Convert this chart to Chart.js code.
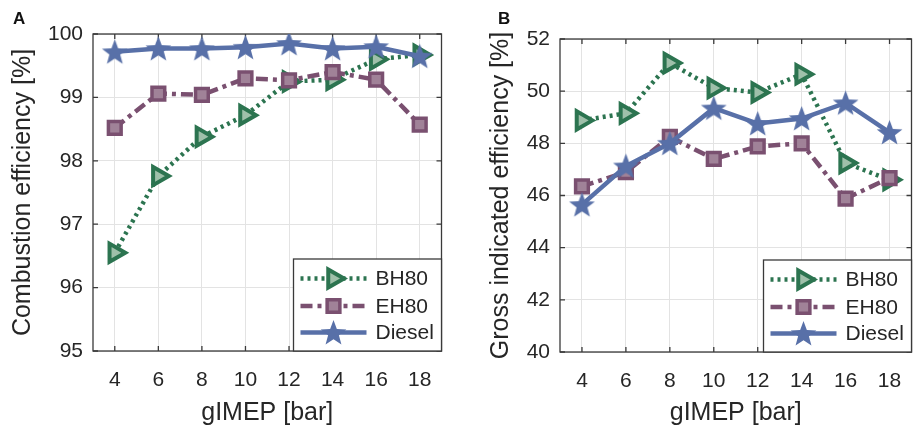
<!DOCTYPE html>
<html>
<head>
<meta charset="utf-8">
<script src="https://cdn.jsdelivr.net/npm/chart.js@4/dist/chart.umd.min.js"></script>
<style>
html, body { margin: 0; padding: 0; background: #fff; overflow: hidden; }
#wrap { position: relative; width: 913px; height: 428px; overflow: hidden; }
canvas { position: absolute; top: 0; }
.tag { position: absolute; top: 9px; font: bold 17px "Liberation Sans", Arial, sans-serif; color: #111; }
</style>
</head>
<body>
<div id="wrap">
    <canvas id="chartA" width="456" height="428" style="left:0;width:456px;height:428px"></canvas>
    <canvas id="chartB" width="470" height="428" style="left:456px;width:470px;height:428px"></canvas>
    <div class="tag" style="left:13px">A</div>
    <div class="tag" style="left:498px">B</div>
</div>
<script>
// ---- data ----
const gimep = [4, 6, 8, 10, 12, 14, 16, 18];
const xTicks = [4, 6, 8, 10, 12, 14, 16, 18];

// A: combustion efficiency [%]
const combBH80   = [96.55, 97.76, 98.38, 98.72, 99.25, 99.28, 99.60, 99.67];
const combEH80   = [98.52, 99.06, 99.04, 99.30, 99.27, 99.40, 99.28, 98.57];
const combDiesel = [99.72, 99.77, 99.77, 99.79, 99.85, 99.77, 99.80, 99.65];
const combTicks  = [95, 96, 97, 98, 99, 100];

// B: gross indicated efficiency [%]
const gieBH80    = [48.88, 49.15, 51.08, 50.12, 49.95, 50.65, 47.25, 46.60];
const gieEH80    = [46.35, 46.90, 48.25, 47.40, 47.88, 48.00, 45.88, 46.67];
const gieDiesel  = [45.65, 47.13, 48.00, 49.35, 48.76, 48.95, 49.55, 48.42];
const gieTicks   = [40, 42, 44, 46, 48, 50, 52];

const COLORS = { BH80: '#2c7450', EH80: '#7a5070', Diesel: '#5870a8' };
const FONT = '"Liberation Sans", Arial, Helvetica, sans-serif';
const TEXT = '#262626';

// filled pentagram marker (MATLAB 'p')
function makeStar(color, R) {
    const c = document.createElement('canvas');
    c.width = c.height = Math.ceil(R * 2 + 2);
    const g = c.getContext('2d');
    const cx = c.width / 2, cy = c.height / 2 + R * 0.08, r = R * 0.42;
    g.beginPath();
    for (let i = 0; i < 10; i++) {
        const a = -Math.PI / 2 + i * Math.PI / 5;
        const rr = i % 2 ? r : R;
        g.lineTo(cx + rr * Math.cos(a), cy + rr * Math.sin(a));
    }
    g.closePath();
    g.fillStyle = color;
    g.fill();
    return c;
}
const starImg = makeStar(COLORS.Diesel, 13.5);

function datasets(bh, eh, ds) {
    return [
        {
            label: 'BH80', data: bh, order: 3,
            borderColor: COLORS.BH80, borderWidth: 4.5, borderDash: [3, 4],
            pointStyle: 'triangle', rotation: 90, pointRadius: 10.5,
            pointBorderWidth: 4, pointBackgroundColor: '#9fc0aa', pointBorderColor: COLORS.BH80
        },
        {
            label: 'EH80', data: eh, order: 2,
            borderColor: COLORS.EH80, borderWidth: 4.5, borderDash: [12, 5, 4, 5],
            pointStyle: 'rect', pointRadius: 9,
            pointBorderWidth: 3.5, pointBackgroundColor: '#a08298', pointBorderColor: COLORS.EH80
        },
        {
            label: 'Diesel', data: ds, order: 1,
            borderColor: COLORS.Diesel, borderWidth: 4.5,
            pointStyle: starImg, pointRadius: 13, pointBorderWidth: 0,
            pointBackgroundColor: COLORS.Diesel
        }
    ];
}

// axes box + inward tick marks, MATLAB style
const framePlugin = {
    id: 'frame',
    beforeDatasetsDraw(chart) {
        const { ctx, chartArea: a, scales } = chart;
        ctx.save();
        ctx.strokeStyle = '#3a3a3a';
        ctx.lineWidth = 1.3;
        ctx.setLineDash([]);
        ctx.strokeRect(a.left, a.top, a.right - a.left, a.bottom - a.top);
        ctx.beginPath();
        scales.x.ticks.forEach(t => {
            const px = scales.x.getPixelForValue(t.value);
            ctx.moveTo(px, a.bottom); ctx.lineTo(px, a.bottom - 5);
            ctx.moveTo(px, a.top); ctx.lineTo(px, a.top + 5);
        });
        scales.y.ticks.forEach(t => {
            const py = scales.y.getPixelForValue(t.value);
            ctx.moveTo(a.left, py); ctx.lineTo(a.left + 5, py);
            ctx.moveTo(a.right, py); ctx.lineTo(a.right - 5, py);
        });
        ctx.stroke();
        ctx.restore();
    }
};

// legend box in the lower-right corner of the axes
const legendPlugin = {
    id: 'boxLegend',
    afterDraw(chart) {
        const { ctx, chartArea: a } = chart;
        const w = 148, h = 92;
        const x0 = a.right - w, y0 = a.bottom - h;
        ctx.save();
        ctx.fillStyle = '#fff';
        ctx.fillRect(x0, y0, w, h);
        ctx.strokeStyle = '#3a3a3a';
        ctx.lineWidth = 1.3;
        ctx.strokeRect(x0, y0, w, h);
        const rows = [19.5, 47, 73.5];
        chart.data.datasets.forEach((ds, i) => {
            const y = y0 + rows[i];
            ctx.strokeStyle = ds.borderColor;
            ctx.lineWidth = ds.borderWidth;
            ctx.setLineDash(ds.borderDash || []);
            ctx.beginPath();
            ctx.moveTo(x0 + 7, y);
            ctx.lineTo(x0 + 73, y);
            ctx.stroke();
            ctx.setLineDash([]);
            ctx.fillStyle = ds.pointBackgroundColor;
            ctx.strokeStyle = ds.pointBorderColor || ds.borderColor;
            ctx.lineWidth = ds.pointBorderWidth;
            Chart.helpers.drawPoint(ctx, {
                pointStyle: ds.pointStyle, radius: ds.pointRadius,
                rotation: ds.rotation || 0, borderWidth: ds.pointBorderWidth
            }, x0 + 40, y);
            ctx.fillStyle = TEXT;
            ctx.font = '21px ' + FONT;
            ctx.textBaseline = 'middle';
            ctx.fillText(ds.label, x0 + 82, y + 1);
        });
        ctx.restore();
    }
};

function makeChart(id, bh, eh, ds, yMin, yMax, yTitle, geo) {
    return new Chart(document.getElementById(id), {
        type: 'line',
        data: { labels: gimep, datasets: datasets(bh, eh, ds) },
        plugins: [framePlugin, legendPlugin],
        options: {
            responsive: false,
            animation: false,
            devicePixelRatio: 1,
            layout: { padding: { left: 0, right: geo.right, top: geo.top, bottom: 0 } },
            plugins: { legend: { display: false }, tooltip: { enabled: false } },
            scales: {
                x: {
                    type: 'linear', min: 3, max: 19,
                    afterBuildTicks: s => { s.ticks = xTicks.map(v => ({ value: v })); },
                    afterFit: s => { s.height = geo.xh; s.paddingLeft = 0; s.paddingRight = 0; },
                    grid: { color: '#e3e3e3', lineWidth: 1, drawTicks: false },
                    border: { display: false },
                    ticks: { color: TEXT, font: { family: FONT, size: 21 }, padding: 17, maxRotation: 0, autoSkip: false },
                    title: { display: true, text: 'gIMEP [bar]', color: TEXT, font: { family: FONT, size: 25 }, padding: { top: 0, bottom: 0 } }
                },
                y: {
                    min: yMin, max: yMax,
                    afterBuildTicks: s => { s.ticks = geo.yTicks.map(v => ({ value: v })); },
                    afterFit: s => { s.width = geo.yw; },
                    grid: { color: '#e3e3e3', lineWidth: 1, drawTicks: false },
                    border: { display: false },
                    ticks: { color: TEXT, font: { family: FONT, size: 21 }, padding: 10 },
                    title: { display: true, text: yTitle, color: TEXT, font: { family: FONT, size: 25 }, padding: { top: geo.tp, bottom: 0 } }
                }
            }
        }
    });
}

makeChart('chartA', combBH80, combEH80, combDiesel, 95, 100, 'Combustion efficiency [%]',
    { right: 8, top: 34, xh: 77, yw: 93, yTicks: combTicks, tp: 8 });
makeChart('chartB', gieBH80, gieEH80, gieDiesel, 40, 52, 'Gross indicated efficiency [%]',
    { right: 10, top: 39, xh: 76, yw: 104, yTicks: gieTicks, tp: 30 });
</script>
</body>
</html>
